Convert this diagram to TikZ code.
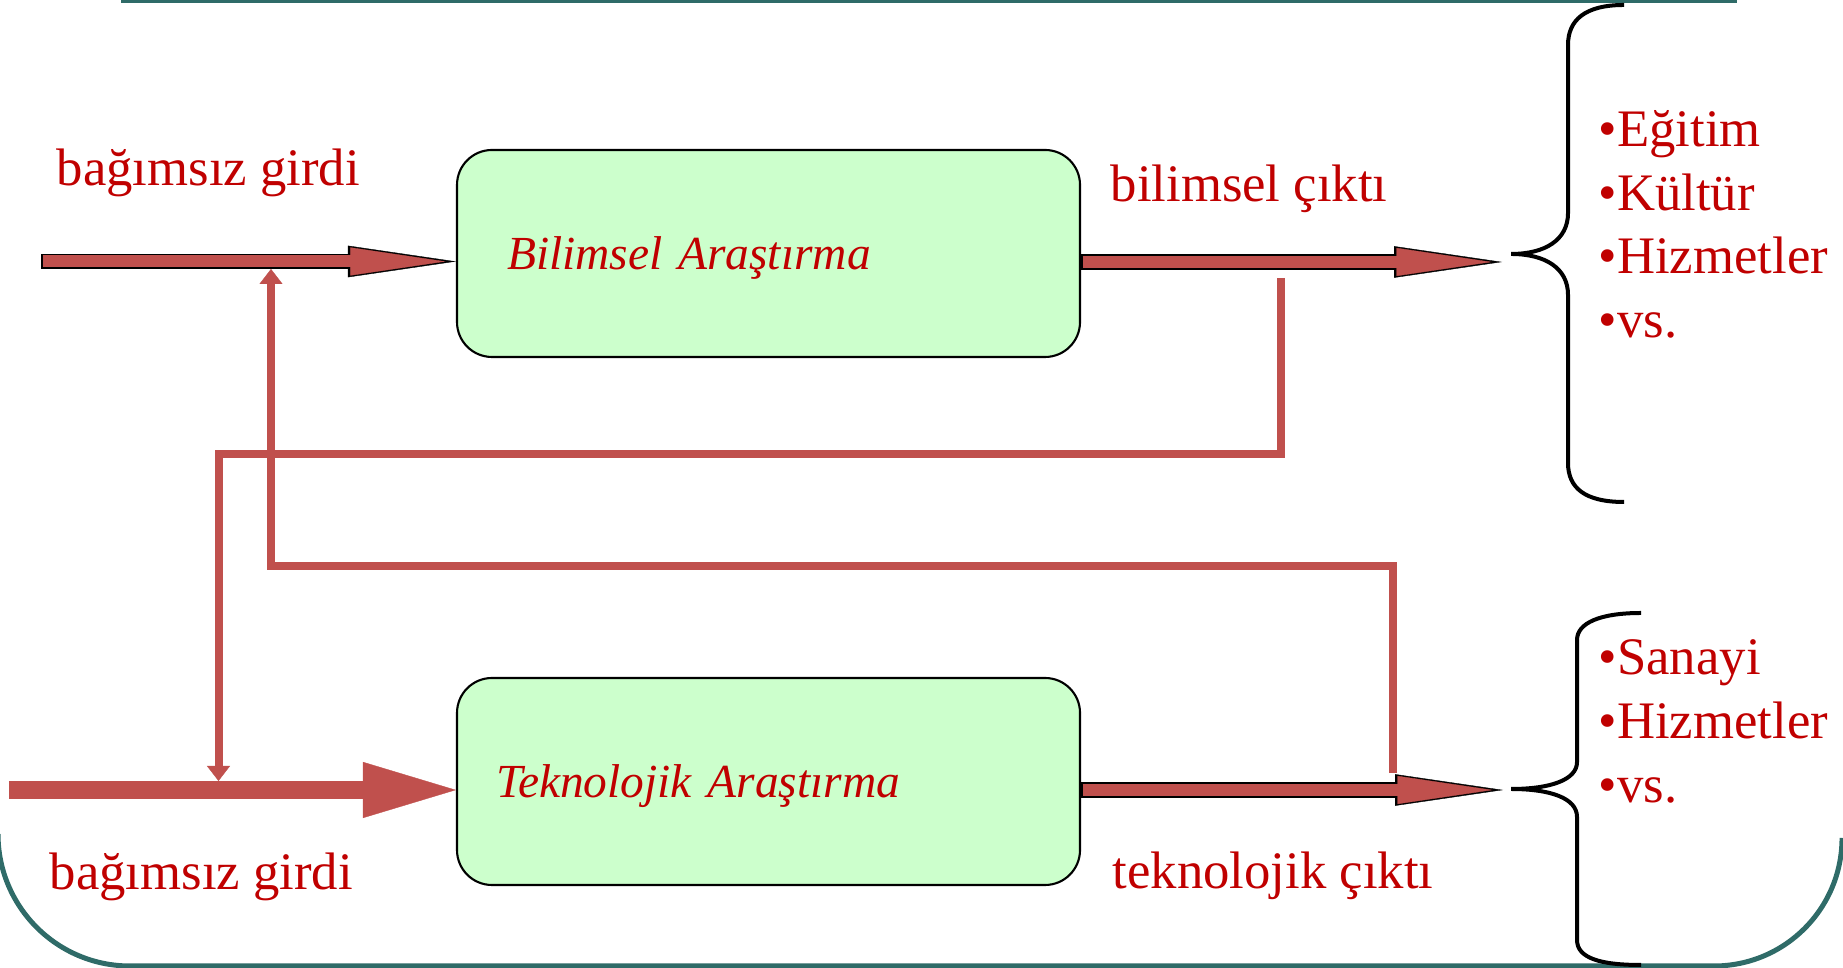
\documentclass[tikz,border=0pt]{standalone}
\usepackage{fontspec}
\setmainfont{Liberation Serif}
\usepackage{xcolor}
\usetikzlibrary{arrows.meta}
\definecolor{txtred}{HTML}{C00000}
\definecolor{arrowred}{HTML}{C0504D}
\definecolor{boxgreen}{HTML}{CCFFCC}
\definecolor{frameteal}{HTML}{2F6B68}
\tikzstyle{resbox}=[rectangle, rounded corners=0.35cm, draw=black, line width=0.6pt, fill=boxgreen, minimum width=6.23cm, minimum height=2.07cm, inner sep=0pt, align=left, text=txtred, font=\fontsize{13.5}{16}\selectfont\itshape, text height=0.5cm, text depth=0.17cm]
\tikzstyle{lbl}=[anchor=base west, inner sep=0pt, text=txtred, font=\fontsize{15}{18}\selectfont]
\tikzstyle{arrowedge}=[line width=0.155cm, draw=black, -{Triangle[length=1.08cm, width=0.315cm, line width=0.1pt, fill=black]}]
\tikzstyle{arrowbody}=[line width=0.12cm, draw=arrowred, shorten <=0.015cm, shorten >=0.105cm, -{Triangle[length=0.95cm, width=0.28cm, line width=0.1pt, fill=arrowred]}]
\tikzstyle{thickin}=[line width=0.18cm, draw=arrowred, -{Triangle[length=0.93cm, width=0.56cm, line width=0.1pt, fill=arrowred]}]
\tikzstyle{fbline}=[line width=0.08cm, draw=arrowred, -{Triangle[length=0.15cm, width=0.23cm, line width=0.1pt, fill=arrowred]}]
\tikzstyle{slideframe}=[line width=0.05cm, draw=frameteal]
\tikzstyle{listbrace}=[line width=0.04cm, draw=black]

\begin{document}
\begin{tikzpicture}
      \useasboundingbox (0,0) rectangle (18.43,9.68);
      % slide frame
      \draw [slideframe] (1.21,9.675) -- (17.37,9.675);
      \draw [slideframe] (-0.02,1.34) arc[start angle=180, end angle=270, radius=1.32] -- (17.14,0.02) arc[start angle=270, end angle=360, radius=1.28];

      % research boxes
      \node [resbox, text width=5.23cm] (bil) at (7.685,7.145) {Bilimsel Araştırma};
      \node [resbox, text width=5.45cm] (tek) at (7.685,1.865) {Teknolojik Araştırma};

      \coordinate (inA) at (0.41,7.065);
      \coordinate (inB) at (0.09,1.78);
      \coordinate (outA) at (15.02,7.06);
      \coordinate (outB) at (15.03,1.78);

      % inputs and outputs
      \draw [arrowedge] (inA) -- (inA -| bil.west);
      \draw [arrowbody] (inA) -- (inA -| bil.west);
      \draw [thickin] (inB) -- (inB -| tek.west);
      \draw [arrowedge] (bil.east |- outA) -- (outA);
      \draw [arrowbody] (bil.east |- outA) -- (outA);
      \draw [arrowedge] (tek.east |- outB) -- (outB);
      \draw [arrowbody] (tek.east |- outB) -- (outB);

      % feedback lines
      \coordinate (fbA) at (12.81,6.90);
      \coordinate (hitB) at (2.185,1.87);
      \coordinate (fbB) at (13.93,1.95);
      \coordinate (hitA) at (2.71,6.99);
      \draw [fbline] (fbA) -- ++(0,-1.76) -| (hitB);
      \draw [fbline] (fbB) -- ++(0,2.07) -| (hitA);

      \node [lbl] (girdiA) at (0.56,7.82) {bağımsız girdi};
      \node [lbl] (girdiB) at (0.49,0.78) {bağımsız girdi};
      \node [lbl] (ciktiA) at (11.10,7.66) {bilimsel çıktı};
      \node [lbl] (ciktiB) at (11.12,0.79) {teknolojik çıktı};

      % braces
      \draw [listbrace] (16.24,9.63) .. controls (15.85,9.63) and (15.68,9.48) .. (15.68,9.23) -- (15.68,7.55) .. controls (15.68,7.28) and (15.45,7.14) .. (15.11,7.14) .. controls (15.45,7.14) and (15.68,7.00) .. (15.68,6.73) -- (15.68,5.05) .. controls (15.68,4.80) and (15.85,4.66) .. (16.24,4.66);
      \draw [listbrace] (16.41,3.55) .. controls (16.00,3.55) and (15.77,3.45) .. (15.77,3.28) -- (15.77,2.06) .. controls (15.77,1.88) and (15.50,1.79) .. (15.11,1.79) .. controls (15.50,1.79) and (15.77,1.70) .. (15.77,1.51) -- (15.77,0.28) .. controls (15.77,0.10) and (16.00,0.03) .. (16.41,0.03);

      \node [lbl] (egitim) at (15.98,8.21) {•Eğitim};
      \node [lbl] (kultur) at (15.98,7.57) {•Kültür};
      \node [lbl] (hizmetA) at (15.98,6.94) {•Hizmetler};
      \node [lbl] (vsA) at (15.98,6.30) {•vs.};
      \node [lbl] (sanayi) at (15.98,2.93) {•Sanayi};
      \node [lbl] (hizmetB) at (15.98,2.29) {•Hizmetler};
      \node [lbl] (vsB) at (15.98,1.65) {•vs.};
    \end{tikzpicture}
\end{document}
